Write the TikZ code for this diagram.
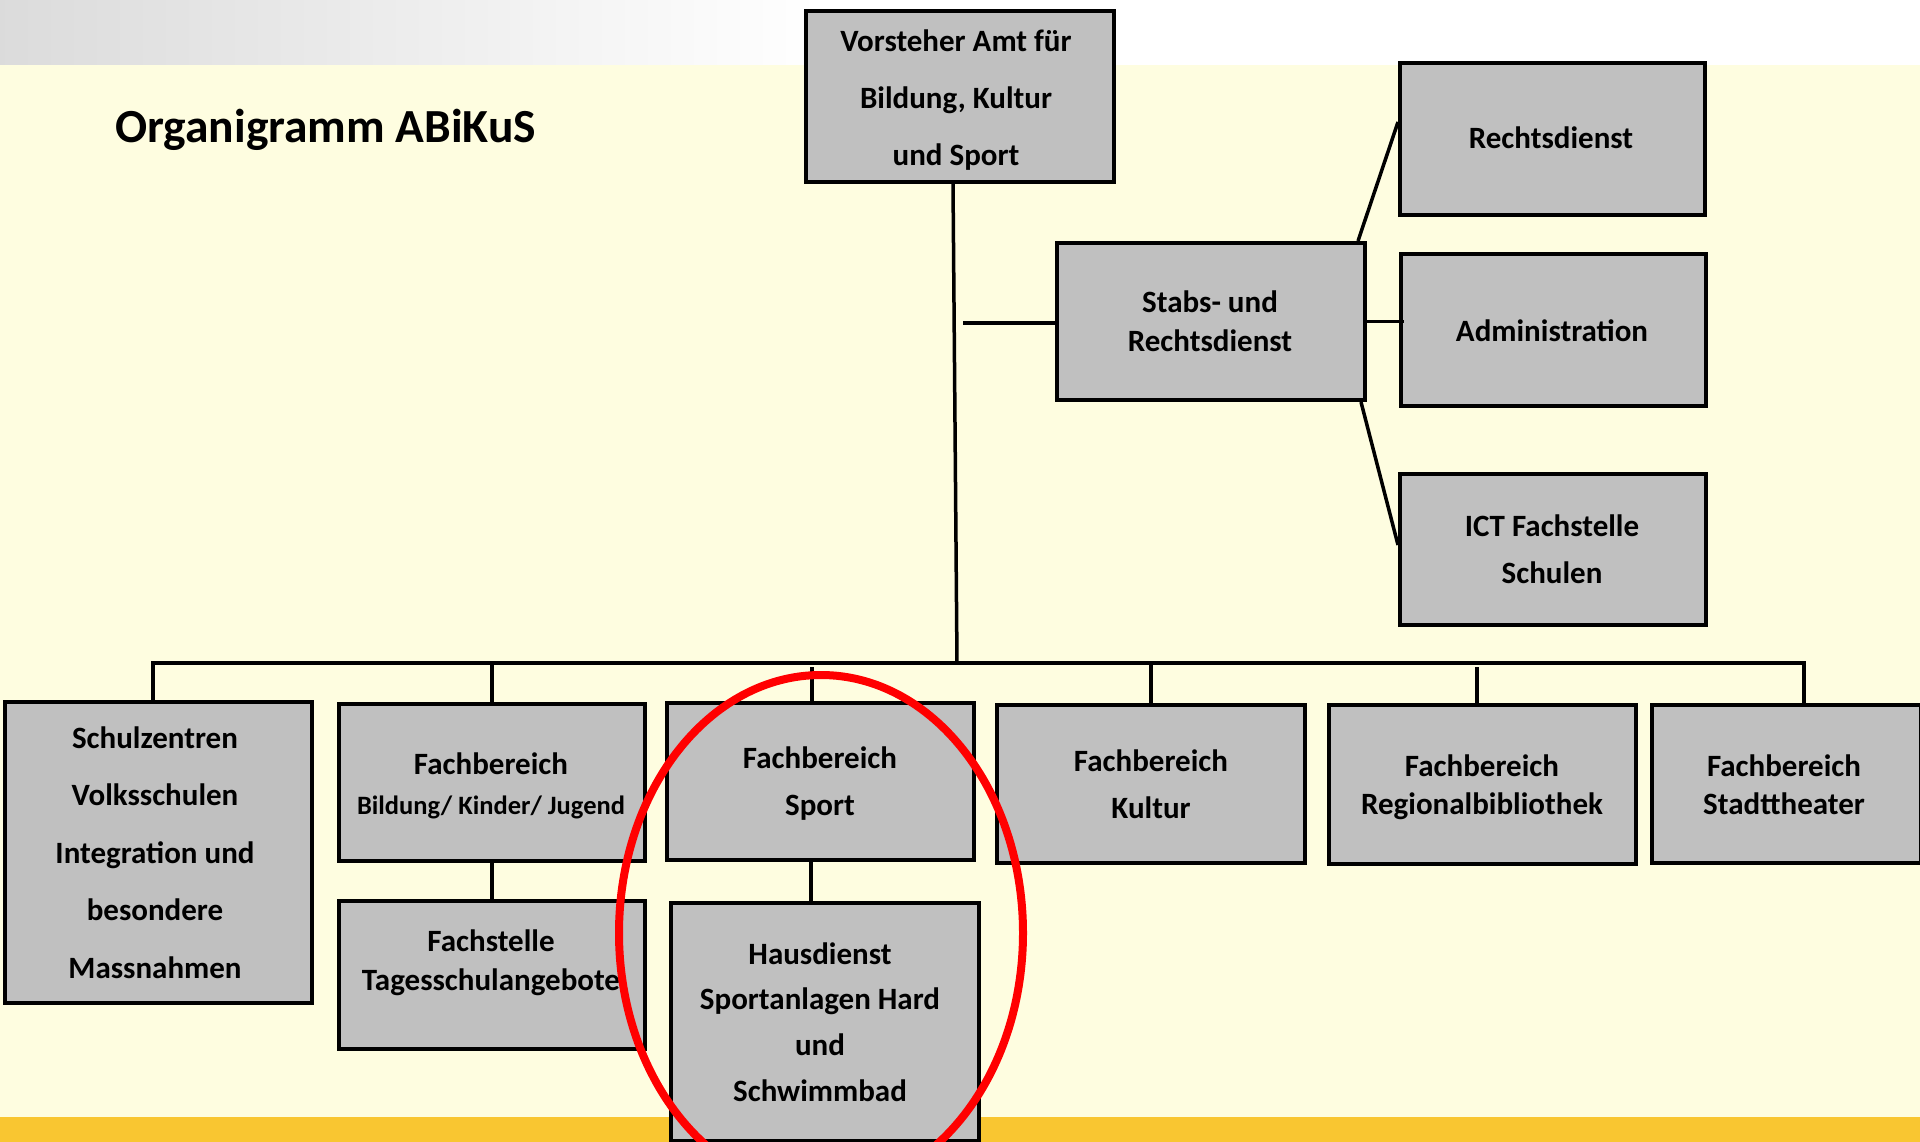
\documentclass[tikz,border=0pt]{standalone}
\usepackage{fontspec}
\setmainfont{Carlito}
\definecolor{bgyellow}{HTML}{FEFDE0}
\definecolor{boxgrey}{HTML}{C0C0C0}
\definecolor{goldband}{HTML}{F9C631}
\definecolor{ringred}{HTML}{FF0000}
\tikzset{
  orgbox/.style={draw=black, fill=boxgrey, line width=4pt, inner sep=0pt, anchor=center},
  orgtxt/.style={align=center, inner sep=0pt, font=\bfseries\fontsize{31}{#1}\selectfont},
  orgtxt/.default=38,
  link/.style={draw=black, line width=3.5pt},
}
\begin{document}
\begin{tikzpicture}[x=1pt,y=-1pt]
\useasboundingbox (0,0) rectangle (1920,1142);
\clip (0,0) rectangle (1920,1142);
% background
\fill[bgyellow] (0,0) rectangle (1920,1142);
\fill[white] (0,0) rectangle (1920,65);
\shade[left color=black!14, right color=white] (0,0) rectangle (820,65);
\fill[goldband] (0,1117) rectangle (1920,1142);

% title
\node[anchor=base west, inner sep=0pt, font=\bfseries\fontsize{47.5}{56}\selectfont] (title) at (115,142.5) {Organigramm ABiKuS};

% boxes
\node[orgbox, minimum width=308pt, minimum height=171pt] (vor) at (960,96.5) {};
\node[orgbox, minimum width=305pt, minimum height=152pt] (rec) at (1552.5,139) {};
\node[orgbox, minimum width=308pt, minimum height=157pt] (sta) at (1211,321.5) {};
\node[orgbox, minimum width=305pt, minimum height=152pt] (adm) at (1553.5,330) {};
\node[orgbox, minimum width=306pt, minimum height=151pt] (ict) at (1553,549.5) {};
\node[orgbox, minimum width=307pt, minimum height=301pt] (sch) at (158.5,852.5) {};
\node[orgbox, minimum width=306pt, minimum height=157pt] (bil) at (492,782.5) {};
\node[orgbox, minimum width=307pt, minimum height=157pt] (spo) at (820.5,781.5) {};
\node[orgbox, minimum width=306pt, minimum height=148pt] (fst) at (492,975) {};
\node[orgbox, minimum width=308pt, minimum height=238pt] (hau) at (825,1022) {};
\node[orgbox, minimum width=308pt, minimum height=158pt] (kul) at (1151,784) {};
\node[orgbox, minimum width=307pt, minimum height=159pt] (reg) at (1482.5,784.5) {};
\node[orgbox, minimum width=269pt, minimum height=158pt] (sth) at (1786.5,784) {};

% texts
\node[orgtxt=57] (tvor) at (956,96.8) {\strut Vorsteher Amt für\\\strut Bildung, Kultur\\\strut und Sport};
\node[orgtxt] (trec) at (1551,140.6) {\strut Rechtsdienst};
\node[orgtxt=39] (tsta) at (1210,324.4) {\strut Stabs- und\\\strut Rechtsdienst};
\node[orgtxt] (tadm) at (1552,333.6) {\strut Administration};
\node[orgtxt=46.5] (tict) at (1552,550.9) {\strut ICT Fachstelle\\\strut Schulen};
\node[orgtxt=57.5] (tsch) at (155,851.7) {\strut Schulzentren\\\strut Volksschulen\\\strut Integration und\\\strut besondere\\\strut Massnahmen};
\node[orgtxt, anchor=base] (tbil) at (491,774.2) {Fachbereich};
\node[anchor=base, inner sep=0pt, font=\bfseries\fontsize{26.5}{32}\selectfont] (tbil2) at (491,814.7) {Bildung/ Kinder/ Jugend};
\node[orgtxt=46.5] (tspo) at (820,782.9) {\strut Fachbereich\\\strut Sport};
\node[orgtxt=39] (tfst) at (491,963.4) {\strut Fachstelle\\\strut Tagesschulangebote};
\node[orgtxt=45.7] (thau) at (820,1023.6) {\strut Hausdienst\\\strut Sportanlagen Hard\\\strut und\\\strut Schwimmbad};
\node[orgtxt=46.5] (tkul) at (1151,785.9) {\strut Fachbereich\\\strut Kultur};
\node[orgtxt=38] (treg) at (1482,788.1) {\strut Fachbereich\\\strut Regionalbibliothek};
\node[orgtxt=38] (tsth) at (1784,788.1) {\strut Fachbereich\\\strut Stadttheater};

% connectors
\coordinate (busL) at (153,663);
\coordinate (busR) at (1804,663);
\coordinate (busM) at (957,663);
\coordinate (busG) at (957,667);
\coordinate (stf) at (963,323);
\draw[link] ([xshift=-7pt]vor.south) -- (busM);
\draw[link] (sch.north -| busL) -- (busL) -- (busR) -- (sth.north -| busR);
\draw[link] (bil.north) -- (bil.north |- busL);
\draw[link] ([xshift=-8.5pt]spo.north) -- ([xshift=-8.5pt]spo.north |- busG);
\draw[link] (kul.north) -- (kul.north |- busL);
\draw[link] ([xshift=-5.5pt]reg.north) -- ([xshift=-5.5pt]reg.north |- busG);
\draw[link] (bil.south) -- (fst.north);
\draw[link] ([xshift=-9.5pt]spo.south) -- ([xshift=-9.5pt]spo.south |- hau.north);
\draw[link] (stf) -- (stf -| sta.west);
\draw[link] ([xshift=-9pt]sta.north east) -- ([yshift=17pt]rec.west);
\draw[link] (sta.east) -- ([xshift=5pt]sta.east -| adm.west);
\draw[link] ([xshift=-6pt]sta.south east) -- ([yshift=4.5pt]ict.west);

% highlight ring
\draw[ringred, line width=8pt] (821,933) ellipse [x radius=202pt, y radius=258pt];
\end{tikzpicture}
\end{document}
